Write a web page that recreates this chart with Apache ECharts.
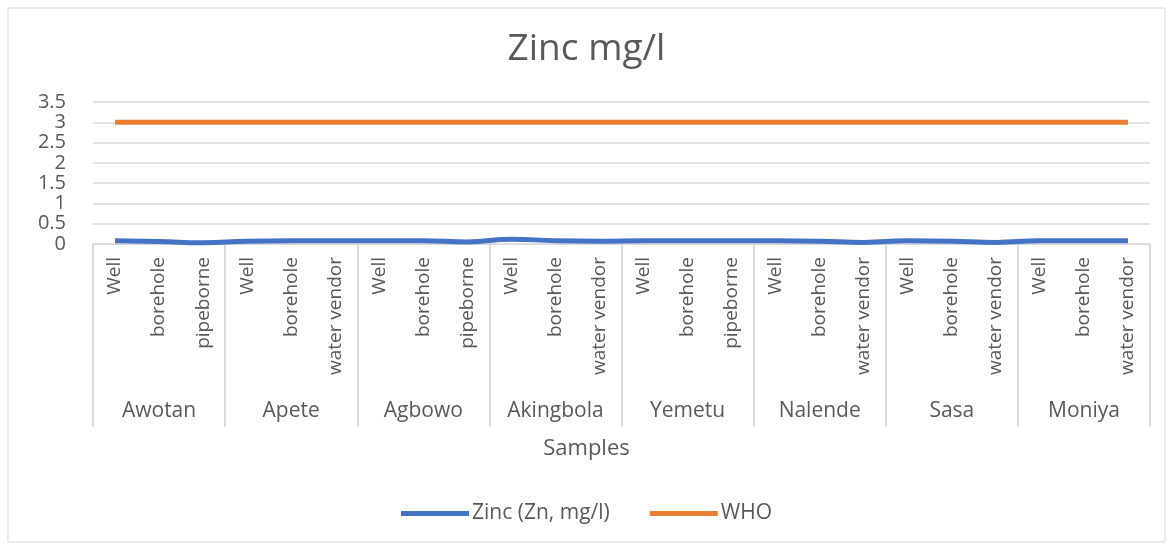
<!DOCTYPE html>
<html><head><meta charset="utf-8">
<script src="https://cdn.jsdelivr.net/npm/echarts@6/dist/echarts.min.js"></script>
<style>html,body{margin:0;padding:0;background:#fff}#c{width:1173px;height:547px}</style>
</head><body><div id="c"></div>
<script>
const sites = ['Awotan','Apete','Agbowo','Akingbola','Yemetu','Nalende','Sasa','Moniya'];
const sources = ['Well','borehole','pipeborne','Well','borehole','water vendor','Well','borehole','pipeborne','Well','borehole','water vendor','Well','borehole','pipeborne','Well','borehole','water vendor','Well','borehole','water vendor','Well','borehole','water vendor'];
const zinc = [0.08,0.06,0.03, 0.07,0.08,0.08, 0.08,0.08,0.05, 0.12,0.08,0.07, 0.08,0.08,0.08, 0.08,0.07,0.04, 0.08,0.07,0.04, 0.08,0.08,0.08];
const who = [3,3,3, 3,3,3, 3,3,3, 3,3,3, 3,3,3, 3,3,3, 3,3,3, 3,3,3];
const yTicks = {min:0, max:3.5, interval:0.5};

const txt = '#595959', grid = '#d9d9d9', font = 'Open Sans';
const chart = echarts.init(document.getElementById('c'));
chart.setOption({
  animation:false,
  textStyle:{fontFamily:font},
  title:[
    {text:'Zinc mg/l', left:'center', top:26, textStyle:{fontFamily:font, fontSize:37, fontWeight:'normal', color:txt}},
    {text:'Samples', left:'center', top:433, textStyle:{fontFamily:font, fontSize:22, fontWeight:'normal', color:txt}}
  ],
  graphic:[{type:'rect', shape:{x:8, y:8, width:1157, height:534}, style:{fill:'none', stroke:'#d9d9d9', lineWidth:1}, silent:true, z:-1}],
  legend:{bottom:18, left:'center', itemGap:40, itemWidth:68, itemHeight:5, icon:'rect',
    textStyle:{fontFamily:font, fontSize:21, color:txt, padding:[0,0,0,-2]},
    data:['Zinc (Zn, mg/l)','WHO']},
  grid:{left:93, right:23, top:102, bottom:303},
  xAxis:[
    {type:'category', data:sources, boundaryGap:true,
      axisLine:{show:true, lineStyle:{color:grid, width:1}},
      axisTick:{show:false},
      axisLabel:{rotate:90, interval:0, margin:13, fontFamily:font, fontSize:19, color:txt}},
    {type:'category', data:sites, position:'bottom', boundaryGap:true,
      axisLine:{show:false},
      axisTick:{show:true, interval:0, length:183, lineStyle:{color:'#d0d0d0', width:1.5}},
      axisLabel:{interval:0, margin:157, fontFamily:font, fontSize:21, color:txt}}
  ],
  yAxis:{type:'value', min:yTicks.min, max:yTicks.max, interval:yTicks.interval,
    axisLine:{show:false}, axisTick:{show:false},
    axisLabel:{margin:27, fontFamily:font, fontSize:20, color:txt, lineHeight:20},
    splitLine:{lineStyle:{color:grid, width:1.5}}},
  series:[
    {name:'Zinc (Zn, mg/l)', type:'line', data:zinc, smooth:true, showSymbol:false, symbol:'none',
      lineStyle:{color:'#4472C4', width:5}, itemStyle:{color:'#4472C4'}},
    {name:'WHO', type:'line', data:who, smooth:true, showSymbol:false, symbol:'none',
      lineStyle:{color:'#ED7D31', width:5}, itemStyle:{color:'#ED7D31'}}
  ]
});
</script></body></html>
